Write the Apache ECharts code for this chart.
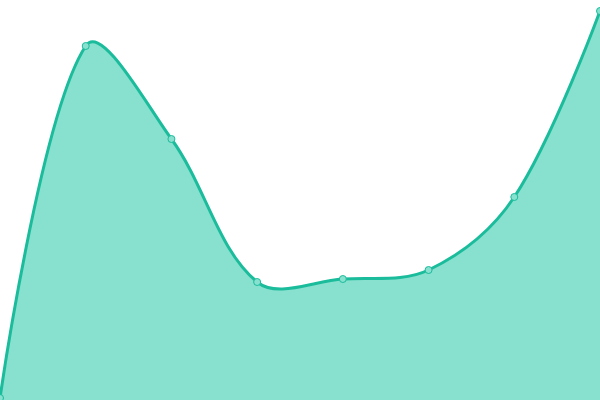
<!DOCTYPE html>
<html><head><meta charset="utf-8">
<script src="https://cdn.jsdelivr.net/npm/echarts@6/dist/echarts.min.js"></script>
<style>html,body{margin:0;padding:0;background:#fff}#c{width:600px;height:400px}</style>
</head><body><div id="c"></div>
<script>
const categories = ['A','B','C','D','E','F','G','H'];
const values = [2, 354, 261, 118, 121, 130, 203, 389];
const SMOOTH = 0.35;

function controlPoints(pts, smooth) {
  // classic (unclamped) bezier smoothing
  const cps = [];
  for (let i = 0; i < pts.length; i++) {
    const p = pts[i];
    if (i === 0 || i === pts.length - 1) { cps.push([p[0], p[1]]); continue; }
    const pr = pts[i - 1], nx = pts[i + 1];
    const vx = (nx[0] - pr[0]) * smooth, vy = (nx[1] - pr[1]) * smooth;
    let d0 = Math.hypot(p[0] - pr[0], p[1] - pr[1]);
    let d1 = Math.hypot(p[0] - nx[0], p[1] - nx[1]);
    const s = d0 + d1;
    if (s) { d0 /= s; d1 /= s; }
    cps.push([p[0] - vx * d0, p[1] - vy * d0]);
    cps.push([p[0] + vx * d1, p[1] + vy * d1]);
  }
  return cps;
}

function curvePath(pts) {
  const cps = controlPoints(pts, SMOOTH);
  let d = 'M' + pts[0][0] + ' ' + pts[0][1];
  for (let i = 0; i < pts.length - 1; i++) {
    const c1 = cps[i * 2], c2 = cps[i * 2 + 1], p = pts[i + 1];
    d += ' C' + c1[0] + ' ' + c1[1] + ' ' + c2[0] + ' ' + c2[1] + ' ' + p[0] + ' ' + p[1];
  }
  return d;
}

const chart = echarts.init(document.getElementById('c'));
chart.setOption({
  animation: false,
  grid: {left: 0, right: 0, top: 0, bottom: 0},
  xAxis: {type: 'category', data: categories, boundaryGap: false, show: false},
  yAxis: {type: 'value', min: 0, max: 400, show: false},
  series: [{
    type: 'custom',
    z: 2,
    data: [[0, 0]],
    renderItem: function (params, api) {
      const pts = values.map((v, i) => api.coord([i, v]));
      const base = api.coord([0, 0])[1];
      const line = curvePath(pts);
      const area = line + ' L' + pts[pts.length - 1][0] + ' ' + base + ' L' + pts[0][0] + ' ' + base + ' Z';
      return {
        type: 'group',
        children: [
          {type: 'path', shape: {pathData: area}, style: {fill: '#88e0ce', stroke: null}},
          {type: 'path', shape: {pathData: line}, style: {fill: null, stroke: '#1abc9c', lineWidth: 3}}
        ]
      };
    }
  }, {
    type: 'line',
    z: 3,
    data: values,
    symbol: 'circle',
    symbolSize: 7,
    lineStyle: {width: 0, opacity: 0},
    itemStyle: {color: '#88e0ce', borderColor: '#1abc9c', borderWidth: 1}
  }]
});
</script></body></html>
